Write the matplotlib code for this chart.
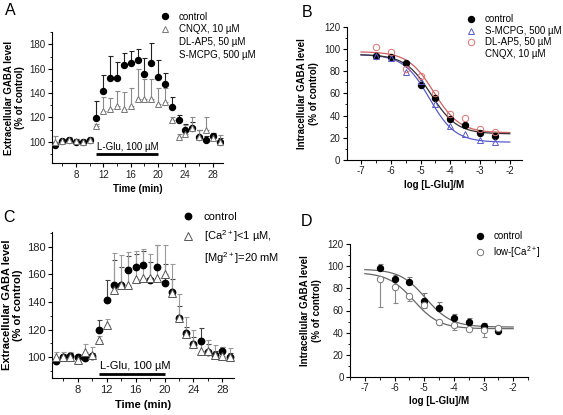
import numpy as np
import matplotlib
matplotlib.use('Agg')
import matplotlib.pyplot as plt
from matplotlib.lines import Line2D
from matplotlib.ticker import MultipleLocator

plt.rcParams['font.family'] = ['Liberation Sans', 'DejaVu Sans']
plt.rcParams['mathtext.fontset'] = 'custom'
plt.rcParams['mathtext.rm'] = 'Liberation Sans'
plt.rcParams['mathtext.it'] = 'Liberation Sans:italic'
plt.rcParams['mathtext.bf'] = 'Liberation Sans:bold'
plt.rcParams['axes.unicode_minus'] = False

# ---------------- data ----------------
time_min = [5, 6, 7, 8, 9, 10, 11, 12, 13, 14, 15, 16, 17, 18, 19, 20, 21, 22, 23, 24, 25, 26, 27, 28, 29]
glu_window = [11, 20]

# Panel A
ctrl_A = [97.5, 100.5, 101, 100, 99.5, 101, 119.5, 141.5, 152.5, 152.5, 163, 165, 167, 156, 165,
          153.5, 147.5, 128.5, 117.5, 109.5, 111.5, 104, 101.5, 104.5, 100]
ctrl_A_err = [2, 2, 2, 2, 2, 2, 14, 13, 18, 13, 10, 10, 9.5, 13, 16,
              14, 9, 8.5, 4.5, 5, 5, 5.5, 3, 3, 3]
cnqx_A = [100, 100.5, 101.5, 100.5, 100, 101.5, 112.5, 125, 127, 129, 127, 129.5, 135.5, 135.5, 135.5,
          131, 133, 118, 104, 106.5, 111, 103.5, 109.5, 103, 100]
cnqx_A_err = [4.5, 2, 2.5, 2, 2, 2, 2, 12, 9, 13, 14, 15, 24, 16, 16,
              13, 11, 2, 2, 7, 9.5, 6, 10.5, 3, 5.5]

# Panel C
ctrl_C = ctrl_A
ctrl_C_err = [2, 2, 2, 2, 2, 2, 7.5, 14.5, 18, 13, 10, 10, 9.5, 13, 16,
              14, 9, 8.5, 4.5, 5, 9.5, 5.5, 3, 3, 3]
lowca_C = [100, 100, 100.5, 98, 104, 102, 112.5, 123, 148.5, 152, 152, 156.5, 157.5, 157.5, 157.5,
           160, 146.5, 128.5, 117, 109.5, 104.5, 104.5, 102, 101, 100.5]
lowca_C_err = [3.5, 3.5, 3.5, 4.5, 5.5, 5.5, 3, 5, 27, 22, 24, 20.5, 20.5, 17.5, 24,
               21, 21, 17, 12, 10, 6, 8, 7, 6.5, 6]

# Panel B
log_glu = [-6.5, -6, -5.5, -5, -4.5, -4, -3.5, -3, -2.5]
ctrl_B = [93.8, 92.5, 87.4, 67.6, 55.7, 37.1, 31.4, 24, 21.3]
smcpg_B = [93.8, 92, 79, 71.5, 50.2, 30.4, 23.4, 17.7, 16.1]
dlap5_B = [102, 97.4, 82.2, 76, 60, 41, 37.4, 28, 25.5]
# fitted sigmoid parameters: top, bottom, logEC50, Hill slope
fit_ctrl_B = [95, 23.5, -4.65, 1.0]
fit_smcpg_B = [95, 16, -4.7, 1.0]
fit_dlap5_B = [97.5, 24.5, -4.55, 1.0]

# Panel D
ctrl_D = [98.2, 88.1, 85.4, 68.7, 62.6, 53.2, 49.5, 45.6, 41]
ctrl_D_err = [3.6, 3.9, 5.2, 7.3, 5.2, 3.3, 4, 3.4, 0]
lowca_D = [89, 80.9, 73.3, 65.3, 49.5, 46.5, 43.5, 42, 44]
lowca_D_err = [25.8, 14, 4.9, 2.7, 3, 4, 1.5, 6.1, 0]
fit_ctrl_D = [97.5, 45, -4.95, 1.0]
fit_lowca_D = [94.5, 43.5, -5.35, 1.0]

# ---------------- figure ----------------
W, H = 563, 415
fig = plt.figure(figsize=(W / 100, H / 100), dpi=100)


def rect(l, t, r, b):
    return [l / W, 1 - b / H, (r - l) / W, (b - t) / H]


def style(ax, fs):
    for s in ['top', 'right']:
        ax.spines[s].set_visible(False)
    for s in ['left', 'bottom']:
        ax.spines[s].set_linewidth(0.8)
    ax.tick_params(which='major', direction='out', length=3, width=0.8,
                   labelsize=fs, labelcolor='#222222', pad=1.5)
    ax.tick_params(which='minor', direction='out', length=1.8, width=0.6)


def hill(x, p):
    top, bottom, ec, h = p
    return bottom + (top - bottom) / (1 + 10 ** ((x - ec) * h))


def legend(ax, handles, labels, x, y, fs, spacing):
    ax.legend(handles, labels, loc='upper left', bbox_to_anchor=(x / W, 1 - y / H),
              bbox_transform=fig.transFigure, frameon=False, fontsize=fs,
              borderpad=0, borderaxespad=0, handlelength=1.0, handletextpad=0.9,
              labelspacing=spacing)


blank = Line2D([], [], linestyle='none', marker=None)
t = np.array(time_min)

# ---------- Panel A ----------
axA = fig.add_axes(rect(52, 32.3, 223, 163.3))
style(axA, 7)
zeros = np.zeros(len(t))
axA.errorbar(t, ctrl_A, yerr=[zeros, ctrl_A_err], fmt='none', ecolor='#222222',
             elinewidth=0.8, capsize=1.8, capthick=0.8, zorder=2)
axA.errorbar(t, cnqx_A, yerr=[zeros, cnqx_A_err], fmt='none', ecolor='#8a8a8a',
             elinewidth=0.8, capsize=1.8, capthick=0.8, zorder=2)
hA1, = axA.plot(t, ctrl_A, 'o', color='black', ms=4.3, linestyle='none', zorder=3)
hA2, = axA.plot(t, cnqx_A, '^', mfc='white', mec='#777777', mew=0.7, ms=4.8,
                linestyle='none', zorder=4)
axA.plot(glu_window, [89.6, 89.6], color='black', lw=2, solid_capstyle='butt')
axA.text(glu_window[0] + 0.1, 91.5, 'L-Glu, 100 µM', fontsize=7, ha='left', va='bottom')
axA.set_xlim(4.5, 29.5)
axA.set_ylim(82.2, 190)
axA.xaxis.set_minor_locator(MultipleLocator(2))
axA.set_xticks([8, 12, 16, 20, 24, 28])
axA.yaxis.set_minor_locator(MultipleLocator(10))
axA.set_yticks([100, 120, 140, 160, 180])
axA.set_xlabel('Time (min)', fontsize=7, fontweight='bold', labelpad=3)
axA.set_ylabel('Extracellular GABA level\n(% of control)', fontsize=7,
               fontweight='bold', labelpad=3, linespacing=1.2)
legend(axA, [hA1, hA2, blank, blank],
       ['control', 'CNQX, 10 µM', 'DL-AP5, 50 µM', 'S-MCPG, 500 µM'],
       160.5, 11.5, 7, 0.3)

# ---------- Panel B ----------
axB = fig.add_axes(rect(346.7, 26.7, 521.7, 160))
style(axB, 7)
xs = np.linspace(-7, -2, 200)
axB.plot(xs, hill(xs, fit_smcpg_B), color='#5a5ad0', lw=0.9)
axB.plot(xs, hill(xs, fit_dlap5_B), color='#d06060', lw=0.9)
axB.plot(xs, hill(xs, fit_ctrl_B), color='#333333', lw=0.9)
hB1, = axB.plot(log_glu, ctrl_B, 'o', color='black', ms=4.3, linestyle='none', zorder=3)
hB2, = axB.plot(log_glu, smcpg_B, '^', mfc='none', mec='#5a5ad0', mew=0.7, ms=4.6,
                linestyle='none', zorder=4)
hB3, = axB.plot(log_glu, dlap5_B, 'o', mfc='none', mec='#e07070', mew=0.7, ms=4.6,
                linestyle='none', zorder=4)
axB.set_xlim(-7.48, -1.6)
axB.set_ylim(0, 120)
axB.xaxis.set_major_locator(MultipleLocator(1))
axB.xaxis.set_minor_locator(MultipleLocator(0.5))
axB.yaxis.set_major_locator(MultipleLocator(20))
axB.yaxis.set_minor_locator(MultipleLocator(10))
axB.set_xlabel('log [L-Glu]/M', fontsize=7, fontweight='bold', labelpad=3)
axB.set_ylabel('Intracellular GABA level\n(% of control)', fontsize=7,
               fontweight='bold', labelpad=4, linespacing=1.2)
legend(axB, [hB1, hB2, hB3, blank],
       ['control', 'S-MCPG, 500 µM', 'DL-AP5, 50 µM', 'CNQX, 10 µM'],
       466.5, 14.5, 7, 0.15)

# ---------- Panel C ----------
axC = fig.add_axes(rect(52.3, 231.7, 234, 378.3))
style(axC, 8)
axC.errorbar(t, ctrl_C, yerr=[zeros, ctrl_C_err], fmt='none', ecolor='#444444',
             elinewidth=0.8, capsize=1.8, capthick=0.8, zorder=2)
axC.errorbar(t, lowca_C, yerr=[zeros, lowca_C_err], fmt='none', ecolor='#9a9a9a',
             elinewidth=0.8, capsize=1.8, capthick=0.8, zorder=2)
hC1, = axC.plot(t, ctrl_C, 'o', color='black', ms=4.6, linestyle='none', zorder=3)
hC2, = axC.plot(t, lowca_C, '^', mfc='white', mec='#555555', mew=0.7, ms=5.2,
                linestyle='none', zorder=4)
axC.plot(glu_window, [87.7, 87.7], color='black', lw=2, solid_capstyle='butt')
axC.text(sum(glu_window) / 2 + 0.4, 90, 'L-Glu, 100 µM', fontsize=8, ha='center', va='bottom')
axC.set_xlim(4.5, 29.6)
axC.set_ylim(84.8, 190.8)
axC.xaxis.set_minor_locator(MultipleLocator(2))
axC.set_xticks([8, 12, 16, 20, 24, 28])
axC.yaxis.set_minor_locator(MultipleLocator(10))
axC.set_yticks([100, 120, 140, 160, 180])
axC.set_xlabel('Time (min)', fontsize=8, fontweight='bold', labelpad=4)
axC.set_ylabel('Extracellular GABA level\n(% of control)', fontsize=8,
               fontweight='bold', labelpad=3, linespacing=1.2)
legend(axC, [hC1, hC2, blank],
       ['control', '[Ca$^{2+}$]<1 µM,', '[Mg$^{2+}$]=20 mM'],
       182.5, 211.5, 8, 0.6)

# ---------- Panel D ----------
axD = fig.add_axes(rect(350, 244.3, 528, 376.7))
style(axD, 7)
zD = np.zeros(len(log_glu))
axD.plot(xs, hill(xs, fit_ctrl_D), color='#666666', lw=0.9)
axD.plot(xs, hill(xs, fit_lowca_D), color='#666666', lw=0.9)
axD.errorbar(log_glu, ctrl_D, yerr=[zD, ctrl_D_err], fmt='none', ecolor='#777777',
             elinewidth=0.8, capsize=1.8, capthick=0.8, zorder=2)
axD.errorbar(log_glu, lowca_D, yerr=[lowca_D_err, zD], fmt='none', ecolor='#888888',
             elinewidth=0.8, capsize=1.8, capthick=0.8, zorder=2)
hD1, = axD.plot(log_glu, ctrl_D, 'o', color='black', ms=4.3, linestyle='none', zorder=3)
hD2, = axD.plot(log_glu, lowca_D, 'o', mfc='white', mec='#777777', mew=0.7, ms=4.6,
                linestyle='none', zorder=4)
axD.set_xlim(-7.5, -1.5)
axD.set_ylim(0, 120)
axD.xaxis.set_major_locator(MultipleLocator(1))
axD.xaxis.set_minor_locator(MultipleLocator(0.5))
axD.yaxis.set_major_locator(MultipleLocator(20))
axD.yaxis.set_minor_locator(MultipleLocator(10))
axD.set_xlabel('log [L-Glu]/M', fontsize=7, fontweight='bold', labelpad=2.5)
axD.set_ylabel('Intracellular GABA level\n(% of control)', fontsize=7,
               fontweight='bold', labelpad=4, linespacing=1.2)
legend(axD, [hD1, hD2], ['control', 'low-[Ca$^{2+}$]'], 475, 231, 7, 0.3)

# panel letters
for letter, x, y in [('A', 4.5, 3), ('B', 302, 5), ('C', 3, 210), ('D', 301, 214)]:
    fig.text(x / W, 1 - y / H, letter, fontsize=11.5, ha='left', va='top')

fig.savefig('out.png', dpi=100)
